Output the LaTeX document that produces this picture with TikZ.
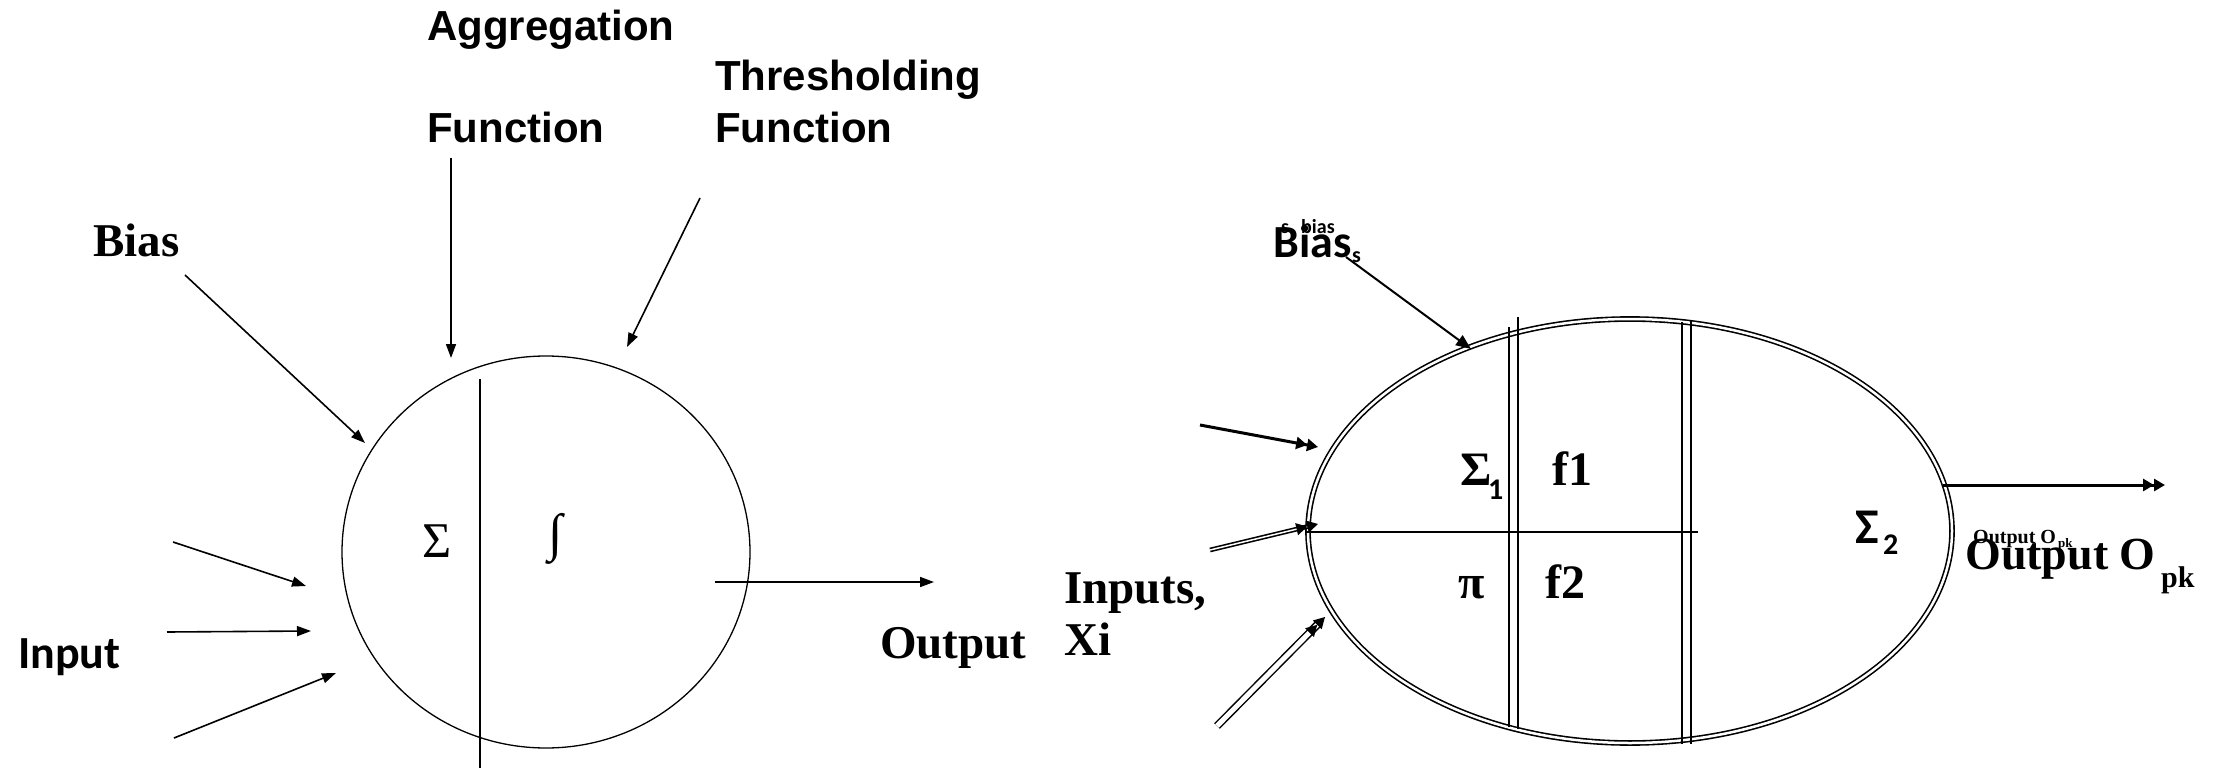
\documentclass[tikz,border=0pt]{standalone}
\usepackage{fontspec}
\setmainfont{Liberation Serif}
\newfontfamily\headfont{Liberation Sans}
\newfontfamily\calfont{Carlito}
\usetikzlibrary{arrows.meta,shapes.geometric}
\newcommand\fsz[1]{\fontsize{#1}{#1}\selectfont}
\tikzset{
  lbl/.style={inner sep=0pt, anchor=base west},
  headlbl/.style={lbl, font=\headfont\bfseries\fsz{42}},
  serlbl/.style={lbl, font=\bfseries\fsz{47}},
  callbl/.style={lbl, font=\calfont\bfseries\fsz{46}},
  thinline/.style={line width=1.4pt},
  cellline/.style={line width=1.8pt},
  onetip/.style={line width=1.6pt, -{Triangle[length=14pt,width=10pt]}},
  twotip/.style={-{Triangle[length=11pt,width=12pt]Triangle[length=11pt,width=12pt]}},
}
\begin{document}
\begin{tikzpicture}[x=1pt,y=-1pt]
\path[use as bounding box] (0,0) rectangle (2219,768);

% ---------- single neuron ----------
\node[draw, ellipse, line width=1.3pt, minimum width=408pt, minimum height=392pt, inner sep=0pt] (soma) at (546,552) {};
\coordinate (splitTop) at (480,379);
\coordinate (splitBot) at (480,768);
\draw[thinline] (splitTop) -- (splitBot);
\node[font=\fsz{50}, inner sep=0pt] (sumL) at (437,541) {Σ};
\node[font=\fsz{52}, inner sep=0pt] (intL) at (556,539) {∫};

\node[headlbl] (aggA) at (427,41) {Aggregation};
\node[headlbl] (aggB) at (427,142) {Function};
\node[headlbl] (thrA) at (715,90) {Thresholding};
\node[headlbl] (thrB) at (715,142) {Function};
\node[serlbl] (biasL) at (93,256) {Bias};
\node[callbl] (inputL) at (18,668) {Input};
\node[serlbl] (outL) at (880,658) {Output};

\coordinate (aggS) at (451,158);  \coordinate (aggE) at (451,358);
\coordinate (thrS) at (700,198);  \coordinate (thrE) at (627,347);
\coordinate (biasS) at (185,275); \coordinate (biasE) at (365,443);
\coordinate (inAS) at (173,542);  \coordinate (inAE) at (306,586);
\coordinate (inBS) at (167,632);  \coordinate (inBE) at (311,631);
\coordinate (inCS) at (174,738);  \coordinate (inCE) at (336,673);
\coordinate (outLS) at (715,582); \coordinate (outLE) at (934,582);
\draw[onetip] (aggS) -- (aggE);
\draw[onetip] (thrS) -- (thrE);
\draw[onetip] (biasS) -- (biasE);
\draw[onetip] (inAS) -- (inAE);
\draw[onetip] (inBS) -- (inBE);
\draw[onetip] (inCS) -- (inCE);
\draw[onetip] (outLS) -- (outLE);

% ---------- two-part neuron ----------
\node[serlbl] (inR1) at (1064,603) {Inputs,};
\node[serlbl] (inR2) at (1064,655) {Xi};

\node[draw, ellipse, double, double distance=2.5pt, line width=1.6pt, minimum width=644pt, minimum height=424pt, inner sep=0pt] (cell) at (1630,531) {};
\coordinate (vA1) at (1509,327); \coordinate (vA2) at (1509,727);
\coordinate (vB1) at (1518,317); \coordinate (vB2) at (1518,729);
\coordinate (vC1) at (1682,322); \coordinate (vC2) at (1682,744);
\coordinate (vD1) at (1691,321); \coordinate (vD2) at (1691,744);
\coordinate (hL) at (1306,532);  \coordinate (hR) at (1698,532);
\draw[cellline] (vA1) -- (vA2);
\draw[cellline] (vB1) -- (vB2);
\draw[thinline] (vC1) -- (vC2);
\draw[thinline] (vD1) -- (vD2);
\draw[cellline] (hL) -- (hR);

\node[serlbl, font=\bfseries\fsz{48}] (sum1) at (1460,485) {Σ};
\node[lbl, font=\calfont\bfseries\fsz{30}] (sum1i) at (1488,499) {1};
\node[serlbl, font=\bfseries\fsz{48}] (fone) at (1552,485) {f1};
\node[serlbl, font=\bfseries\fsz{48}] (prodR) at (1458,598) {π};
\node[serlbl, font=\bfseries\fsz{48}] (ftwo) at (1545,598) {f2};
\node[lbl, font=\calfont\bfseries\fsz{50}] (sum2) at (1855,543) {Σ};
\node[lbl, font=\calfont\bfseries\fsz{30}] (sum2i) at (1883,554) {2};

\node[lbl, font=\calfont\bfseries\fsz{46}] (biasR) at (1273,257) {Bias};
\node[lbl, font=\calfont\bfseries\fsz{22}] (biasRs) at (1352,262) {s};
\node[lbl, font=\calfont\bfseries\fsz{20}] (biasTs) at (1281,233) {s};
\node[lbl, font=\calfont\bfseries\fsz{20}] (biasTb) at (1301,233) {bias};

\node[serlbl, font=\bfseries\fsz{46}] (outR) at (1965,569) {Output O};
\node[serlbl, font=\bfseries\fsz{30}] (outRi) at (2161,587) {pk};
\node[serlbl, font=\bfseries\fsz{20}] (outRs) at (1973,543) {Output O};
\node[serlbl, font=\bfseries\fsz{13}] (outRsi) at (2058,547) {pk};

\coordinate (bRS) at (1346,257);  \coordinate (bRE) at (1471,349);
\coordinate (xAS) at (1200,425);  \coordinate (xAE) at (1318,447);
\coordinate (xBS) at (1210,550);  \coordinate (xBE) at (1318,524);
\coordinate (xCS) at (1217,726);  \coordinate (xCE) at (1325,617);
\coordinate (oRS) at (1943,485);  \coordinate (oRE) at (2165,485);
\draw[line width=2pt, -{Triangle[length=15pt,width=12pt]}] (bRS) -- (bRE);
\draw[twotip, line width=3pt] (xAS) -- (xAE);
\draw[twotip, line width=1.6pt, double, double distance=1.5pt] (xBS) -- (xBE);
\draw[twotip, line width=1.5pt, double, double distance=5pt] (xCS) -- (xCE);
\draw[twotip, line width=3pt] (oRS) -- (oRE);
\end{tikzpicture}
\end{document}
